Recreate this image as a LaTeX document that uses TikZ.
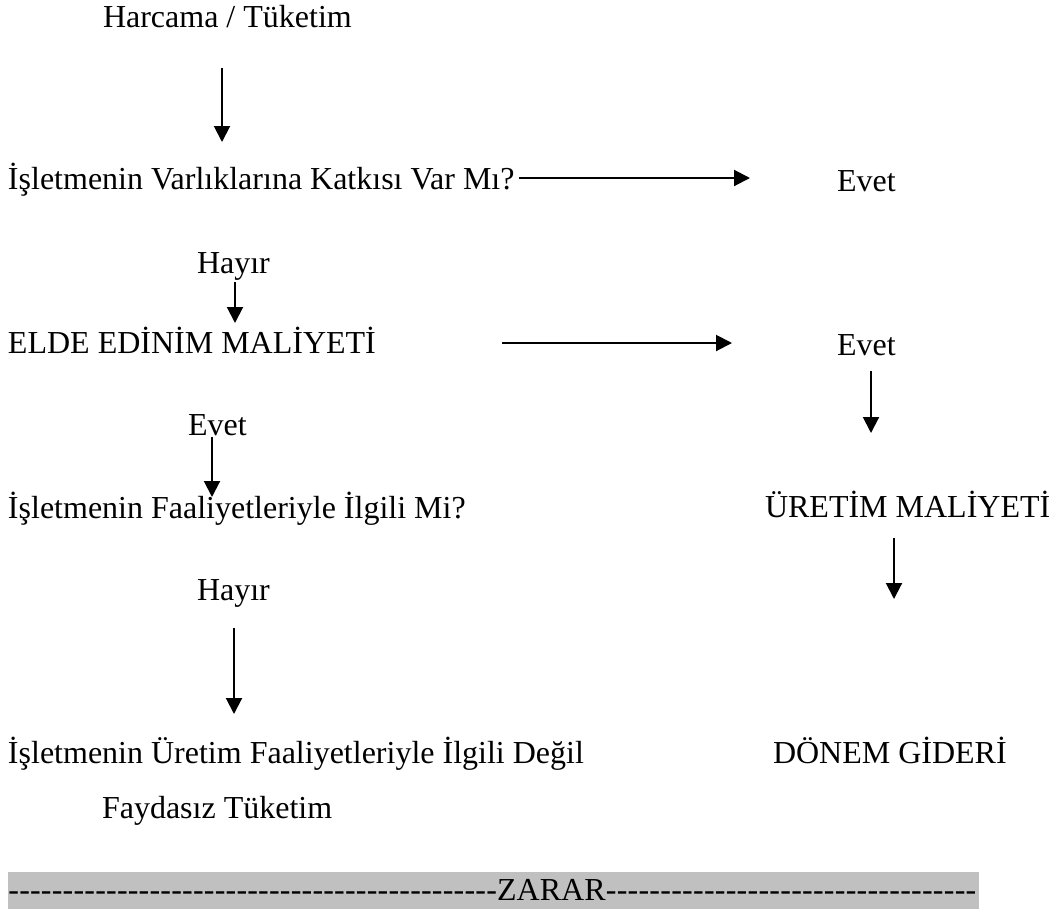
\documentclass[tikz,border=0pt]{standalone}
\usepackage{fontspec}
\setmainfont{Liberation Serif}
\usetikzlibrary{arrows.meta}
\definecolor{bandgray}{HTML}{C0C0C0}
\tikzset{
  lbl/.style={anchor=base west, inner sep=0pt, outer sep=0pt, font=\fontsize{32}{38}\selectfont},
  arr/.style={line width=2pt, -{Triangle[length=16pt, width=16pt]}},
}
\begin{document}
\begin{tikzpicture}[x=1pt,y=-1pt]
\useasboundingbox (0,0) rectangle (1056,911);
% texts
\node[lbl] (harcama) at (103,27) {Harcama / Tüketim};
\node[lbl] (q1) at (8,189) {İşletmenin Varlıklarına Katkısı Var Mı?};
\node[lbl] (evet1) at (837,191) {Evet};
\node[lbl] (hayir1) at (197,273) {Hayır};
\node[lbl] (elde) at (8,353) {ELDE EDİNİM MALİYETİ};
\node[lbl] (evet2) at (837,355) {Evet};
\node[lbl] (evet3) at (188,435) {Evet};
\node[lbl] (q2) at (8,518) {İşletmenin Faaliyetleriyle İlgili Mi?};
\node[lbl] (uretim) at (765,517) {ÜRETİM MALİYETİ};
\node[lbl] (hayir2) at (197,600) {Hayır};
\node[lbl] (degil) at (8,763) {İşletmenin Üretim Faaliyetleriyle İlgili Değil};
\node[lbl] (donem) at (773,763) {DÖNEM GİDERİ};
\node[lbl] (faydasiz) at (102,818) {Faydasız Tüketim};
% ZARAR band
\fill[bandgray] (8,872) rectangle (979,909);
\node[anchor=base west, inner sep=0pt, font=\fontsize{32}{38}\selectfont] (zarar) at (8,900)
  {\hbox to 489pt{\xleaders\hbox{-}\hfill}ZARAR\hbox to 371pt{\xleaders\hbox{-}\hfill}};
% arrow end points
\coordinate (a1s) at (222,68);  \coordinate (a1e) at (222,142);
\coordinate (a2s) at (519,178); \coordinate (a2e) at (750,178);
\coordinate (a3s) at (235,282); \coordinate (a3e) at (235,323);
\coordinate (a4s) at (502,343); \coordinate (a4e) at (732,343);
\coordinate (a5s) at (871,371); \coordinate (a5e) at (871,433);
\coordinate (a6s) at (212,437); \coordinate (a6e) at (212,497);
\coordinate (a7s) at (894,538); \coordinate (a7e) at (894,599);
\coordinate (a8s) at (234,628); \coordinate (a8e) at (234,714);
% arrows
\draw[arr] (a1s) -- (a1e);
\draw[arr] (a2s) -- (a2e);
\draw[arr] (a3s) -- (a3e);
\draw[arr] (a4s) -- (a4e);
\draw[arr] (a5s) -- (a5e);
\draw[arr] (a6s) -- (a6e);
\draw[arr] (a7s) -- (a7e);
\draw[arr] (a8s) -- (a8e);
\end{tikzpicture}
\end{document}
